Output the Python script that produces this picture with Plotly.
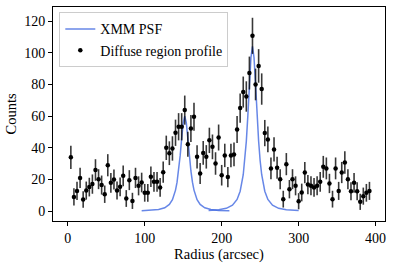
import plotly.graph_objects as go

# Diffuse region profile (radius in arcsec, counts, 1-sigma errors)
radius = [4, 8, 12, 16, 20, 24, 28, 32, 36, 40, 44, 48, 52, 56, 60, 64, 68, 72, 76, 80,
          84, 88, 92, 96, 100, 104, 108, 112, 116, 120, 124, 128, 132, 136, 140, 144, 148, 152, 156, 160,
          164, 168, 172, 176, 180, 184, 188, 192, 196, 200, 204, 208, 212, 216, 220, 224, 228, 232, 236, 240,
          244, 248, 252, 256, 260, 264, 268, 272, 276, 280, 284, 288, 292, 296, 300, 304, 308, 312, 316, 320,
          324, 328, 332, 336, 340, 344, 348, 352, 356, 360, 364, 368, 372, 376, 380, 384, 388, 392]
counts = [34.0, 9.0, 12.8, 21.0, 7.4, 13.0, 15.2, 17.1, 26.0, 20.2, 16.5, 10.7, 29.0, 17.9, 20.0, 13.0, 15.4, 22.3, 8.0, 19.6,
          6.5, 21.0, 16.0, 18.1, 11.6, 11.6, 21.7, 18.5, 18.5, 15.0, 24.6, 40.0, 36.6, 39.6, 49.5, 53.3, 53.3, 63.8, 42.3, 52.2,
          59.6, 34.3, 23.8, 36.8, 34.3, 44.7, 40.6, 30.1, 46.5, 22.7, 35.2, 21.5, 35.2, 35.8, 51.6, 65.1, 75.2, 72.4, 87.2, 110.7,
          80.0, 91.7, 77.1, 49.3, 45.3, 27.0, 39.0, 27.4, 20.2, 7.6, 29.7, 13.9, 20.2, 16.0, 6.3, 11.8, 24.4, 16.8, 16.0, 15.0,
          16.0, 18.5, 28.0, 27.0, 17.5, 7.6, 27.0, 12.8, 24.4, 30.7, 20.2, 12.6, 17.9, 12.6, 5.9, 9.5, 11.6, 12.8]
errors = [7.3, 5.4, 5.7, 6.4, 5.2, 5.7, 5.9, 6.1, 6.8, 6.3, 6.0, 5.5, 7.0, 6.2, 6.3, 5.7, 5.9, 6.5, 5.3, 6.3,
          5.1, 6.4, 6.0, 6.2, 5.6, 5.6, 6.5, 6.2, 6.2, 5.9, 6.7, 7.7, 7.5, 7.7, 8.3, 8.6, 8.6, 9.2, 7.9, 8.5,
          8.9, 7.4, 6.6, 7.5, 7.4, 8.0, 7.8, 7.1, 8.2, 6.5, 7.4, 6.4, 7.4, 7.5, 8.5, 9.2, 9.8, 9.6, 10.4, 11.4,
          10.0, 10.6, 9.9, 8.3, 8.1, 6.9, 7.7, 6.9, 6.3, 5.3, 7.0, 5.8, 6.3, 6.0, 5.1, 5.6, 6.7, 6.1, 6.0, 5.9,
          6.0, 6.2, 6.9, 6.9, 6.1, 5.3, 6.9, 5.7, 6.7, 7.1, 6.3, 5.7, 6.2, 5.7, 5.1, 5.4, 5.6, 5.7]

# XMM PSF curves (two sources)
psf1_r = [96, 108, 118, 126, 132, 136, 140, 142, 144, 146, 148, 150, 152, 154, 156, 158, 160, 162, 164, 168,
          172, 178, 186, 196, 210]
psf1_v = [0.25, 0.50, 1.04, 2.16, 4.26, 7.26, 13.3, 18.3, 25.4, 34.9, 46.0, 55.9, 60.0, 55.9, 46.0, 34.9, 25.4, 18.3, 13.3, 7.26,
          4.26, 2.16, 1.04, 0.50, 0.22]
psf2_r = [183, 196, 206, 214, 220, 224, 228, 230, 232, 234, 236, 238, 240, 242, 244, 246, 248, 250, 252, 256,
          260, 266, 274, 284, 300]
psf2_v = [0.41, 0.86, 1.80, 3.74, 7.4, 12.6, 23.0, 31.7, 44.1, 60.5, 79.8, 96.9, 104.0, 96.9, 79.8, 60.5, 44.1, 31.7, 23.0, 12.6,
          7.4, 3.74, 1.80, 0.86, 0.35]

FONT = "Liberation Serif, Times New Roman, serif"
BLUE = "rgba(65,105,225,0.8)"

fig = go.Figure()
fig.add_trace(go.Scatter(x=psf1_r, y=psf1_v, mode="lines", name="XMM PSF",
                         line=dict(color=BLUE, width=1.5), legendgroup="psf"))
fig.add_trace(go.Scatter(x=psf2_r, y=psf2_v, mode="lines", name="XMM PSF", showlegend=False,
                         line=dict(color=BLUE, width=1.5), legendgroup="psf"))
fig.add_trace(go.Scatter(x=radius, y=counts, mode="markers", name="Diffuse region profile",
                         marker=dict(color="black", size=4.5),
                         error_y=dict(type="data", array=errors, visible=True,
                                      color="rgba(0,0,0,0.78)", thickness=1.6, width=0)))

fig.update_layout(
    width=394, height=269,
    margin=dict(l=53, r=9, t=7, b=48, autoexpand=False),
    paper_bgcolor="white", plot_bgcolor="white",
    font=dict(family=FONT, size=14, color="black"),
    legend=dict(x=0.019, y=0.975, xanchor="left", yanchor="top",
                bgcolor="rgba(255,255,255,0.8)", bordercolor="#cccccc", borderwidth=1,
                font=dict(family=FONT, size=14), tracegroupgap=0),
)
fig.update_xaxes(range=[-19.2, 412.2], tickvals=[0, 100, 200, 300, 400], automargin=False,
                 showline=True, mirror=True, linecolor="black", linewidth=1,
                 ticks="outside", ticklen=4, tickwidth=1, tickcolor="black",
                 showgrid=False, zeroline=False,
                 title=dict(text="Radius (arcsec)", standoff=2, font=dict(size=14.5)))
fig.update_yaxes(range=[-6.2, 128.9], tickvals=[0, 20, 40, 60, 80, 100, 120], automargin=False,
                 showline=True, mirror=True, linecolor="black", linewidth=1,
                 ticks="outside", ticklen=4, tickwidth=1, tickcolor="black",
                 showgrid=False, zeroline=False,
                 title=dict(text="Counts", standoff=4, font=dict(size=14.5)))

fig.write_html("out.html", config={"displayModeBar": False},
               post_script="document.body.style.margin='0';document.body.style.overflow='hidden';")
